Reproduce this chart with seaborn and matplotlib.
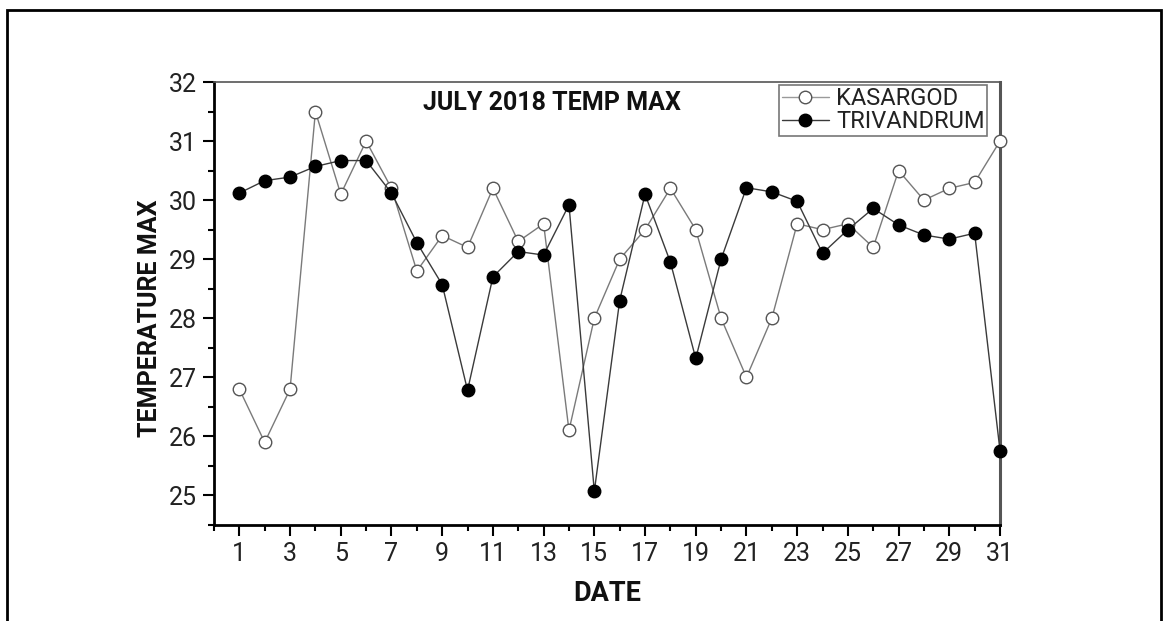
import matplotlib
matplotlib.use("Agg")
import matplotlib.pyplot as plt
import seaborn as sns
import pandas as pd
from matplotlib.ticker import MultipleLocator, FixedLocator
from matplotlib.patches import Rectangle

dates = list(range(1, 32))
kasargod = [26.8, 25.9, 26.8, 31.5, 30.1, 31.0, 30.2, 28.8, 29.4, 29.2,
            30.2, 29.3, 29.6, 26.1, 28.0, 29.0, 29.5, 30.2, 29.5, 28.0,
            27.0, 28.0, 29.6, 29.5, 29.6, 29.2, 30.5, 30.0, 30.2, 30.3, 31.0]
trivandrum = [30.12, 30.33, 30.39, 30.57, 30.67, 30.67, 30.12, 29.28, 28.57, 26.78,
              28.70, 29.13, 29.07, 29.92, 25.07, 28.30, 30.10, 28.95, 27.32, 29.00,
              30.21, 30.14, 29.98, 29.10, 29.50, 29.86, 29.58, 29.41, 29.34, 29.44, 25.76]
series_names = ["KASARGOD", "TRIVANDRUM"]
title_text = "JULY 2018 TEMP MAX"
x_label = "DATE"
y_label = "TEMPERATURE MAX"

sns.set_style("white")
plt.rcParams['font.family'] = ['Roboto', 'DejaVu Sans']

fig = plt.figure(figsize=(11.63, 6.21), dpi=100)
ax = fig.add_axes([214/1163, 1-525/621, (1000-214)/1163, (525-82)/621])

df_k = pd.DataFrame({"date": dates, "temp": kasargod})
df_t = pd.DataFrame({"date": dates, "temp": trivandrum})

sns.lineplot(data=df_k, x="date", y="temp", ax=ax, color="#7a7a7a", linewidth=1.0,
             marker="o", markersize=9, markerfacecolor="white", markeredgecolor="#555555",
             markeredgewidth=1.0, label=series_names[0], clip_on=False, zorder=3)
sns.lineplot(data=df_t, x="date", y="temp", ax=ax, color="#3a3a3a", linewidth=1.0,
             marker="o", markersize=9, markerfacecolor="black", markeredgecolor="black",
             markeredgewidth=1.0, label=series_names[1], clip_on=False, zorder=4)

ax.set_xlim(0, 31)
ax.set_ylim(24.5, 32)
ax.xaxis.set_major_locator(FixedLocator(list(range(1, 32, 2))))
ax.xaxis.set_minor_locator(FixedLocator(list(range(0, 32, 2))))
ax.yaxis.set_major_locator(MultipleLocator(1))
ax.yaxis.set_minor_locator(MultipleLocator(0.5))
ax.tick_params(axis="both", which="major", direction="out", length=8, width=1.5,
               labelsize=18, color="black", labelcolor="#222222", pad=4,
               bottom=True, left=True)
ax.tick_params(axis="both", which="minor", direction="out", length=4.5, width=1.5,
               color="black", bottom=True, left=True)

for side in ["left", "bottom"]:
    ax.spines[side].set_linewidth(2.0)
    ax.spines[side].set_color("black")
ax.spines["top"].set_linewidth(1.2)
ax.spines["top"].set_color("#555555")
ax.spines["right"].set_linewidth(2.2)
ax.spines["right"].set_color("#555555")

ax.set_xlabel(x_label, fontsize=19.5, fontweight="bold", color="#111111", labelpad=10)
ax.set_ylabel(y_label, fontsize=18, fontweight="bold", color="#111111")
ax.yaxis.label.set_va("center")
ax.yaxis.set_label_coords(-0.081, 0.467)

ax.text(0.43, 0.953, title_text, transform=ax.transAxes, ha="center", va="center",
        fontsize=18, fontweight="bold", color="#111111")

leg = ax.legend(loc="upper right", bbox_to_anchor=(0.9835, 0.993), fontsize=17,
                frameon=True, fancybox=False, edgecolor="#555555", borderpad=0.1,
                labelspacing=0.0, handlelength=2.0, handletextpad=0.3, borderaxespad=0.0)
leg.get_frame().set_linewidth(1.2)
for t in leg.get_texts():
    t.set_color("#222222")
leg.get_lines()[0].set_color("#9a9a9a")

fig.patches.append(Rectangle((7/1163, -0.1), (1161-7)/1163, 1.1 - 10/621,
                             transform=fig.transFigure, fill=False,
                             edgecolor="black", linewidth=2.0))

fig.savefig("out.png", dpi=100)
